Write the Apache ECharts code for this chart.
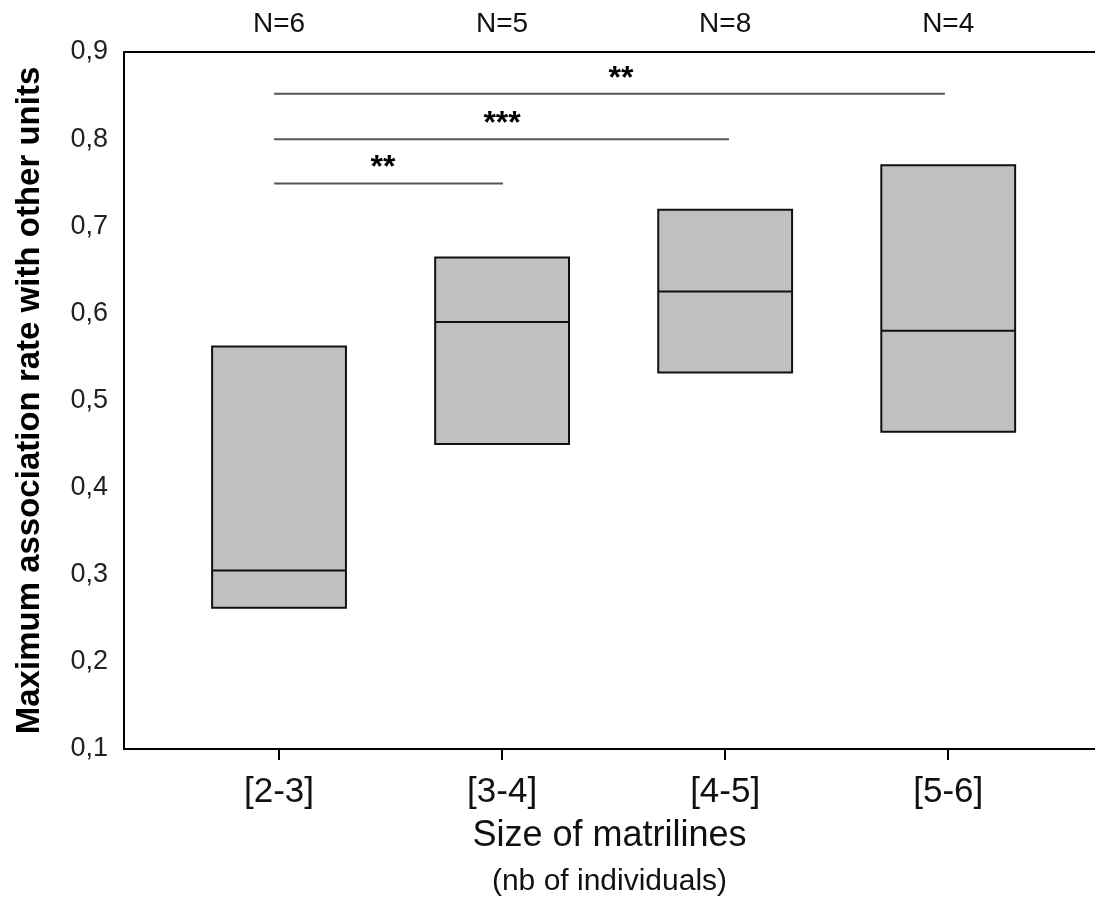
<!DOCTYPE html>
<html>
<head>
<meta charset="utf-8">
<script src="https://cdn.jsdelivr.net/npm/echarts@6/dist/echarts.min.js"></script>
<style>
html,body{margin:0;padding:0;background:#fff;}
#chart{width:1095px;height:907px;}
</style>
</head>
<body>
<div id="chart"></div>
<script>
// ---- data ----
const categories = ['[2-3]', '[3-4]', '[4-5]', '[5-6]'];
const sampleSizes = ['N=6', 'N=5', 'N=8', 'N=4'];
const q1Values = [0.262, 0.450, 0.532, 0.464];
const medianValues = [0.305, 0.590, 0.625, 0.580];
const q3Values = [0.562, 0.664, 0.719, 0.770];
const yTicks = [0.1, 0.2, 0.3, 0.4, 0.5, 0.6, 0.7, 0.8, 0.9];
// significance brackets: start x, end x, level, star x, stars
const sigStart = [0.978, 0.978, 0.978];
const sigEnd = [2.004, 3.017, 3.985];
const sigLevel = [0.749, 0.800, 0.852];
const sigStarX = [1.466, 2.0, 2.533];
const sigStars = ['**', '***', '**'];

const FONT = '"Liberation Sans", Arial, Helvetica, sans-serif';
const BOX_W = 0.6;
const catPos = categories.map((c, i) => i + 1);

const boxData = categories.map((c, i) => [catPos[i], q1Values[i], medianValues[i], q3Values[i]]);
const sigData = sigStars.map((s, i) => [sigStart[i], sigEnd[i], sigLevel[i], sigStarX[i], s]);

const chart = echarts.init(document.getElementById('chart'));
chart.setOption({
  animation: false,
  backgroundColor: '#fff',
  grid: { left: 124, right: 0, top: 52, bottom: 158, containLabel: false },
  xAxis: [{
    type: 'value', min: 0.305, max: 4.658, position: 'bottom',
    axisLine: { show: true, onZero: false, lineStyle: { color: '#000', width: 2 } },
    axisTick: { show: true, customValues: catPos, length: 11, lineStyle: { color: '#000', width: 2 } },
    axisLabel: { customValues: catPos, margin: 26, fontSize: 35, fontFamily: FONT, color: '#111',
      formatter: v => categories[Math.round(v) - 1] || '' },
    splitLine: { show: false },
    name: '{a|Size of matrilines}\n{b|(nb of individuals)}',
    nameLocation: 'middle', nameGap: 64,
    nameTextStyle: { fontFamily: FONT, color: '#111',
      rich: { a: { fontSize: 36, lineHeight: 46, fontFamily: FONT, color: '#111' },
              b: { fontSize: 30, lineHeight: 46, fontFamily: FONT, color: '#111' } } }
  }, {
    type: 'value', min: 0.305, max: 4.658, position: 'top',
    axisLine: { show: true, onZero: false, lineStyle: { color: '#000', width: 2 } },
    axisTick: { show: false },
    axisLabel: { customValues: catPos, margin: 14, fontSize: 28, fontFamily: FONT, color: '#111',
      formatter: v => sampleSizes[Math.round(v) - 1] || '' },
    splitLine: { show: false }
  }],
  yAxis: {
    type: 'value', min: 0.1, max: 0.9, interval: 0.1,
    axisLine: { show: true, onZero: false, lineStyle: { color: '#000', width: 2 } },
    axisTick: { show: false },
    axisLabel: { margin: 16, fontSize: 27, fontFamily: FONT, color: '#222',
      formatter: v => v.toFixed(1).replace('.', ',') },
    splitLine: { show: false },
    name: 'Maximum association rate with other units',
    nameLocation: 'middle', nameGap: 78,
    nameTextStyle: { fontSize: 33, fontWeight: 'bold', fontFamily: FONT, color: '#000' }
  },
  series: [{
    type: 'custom',
    xAxisIndex: 0,
    data: boxData,
    renderItem: function (params, api) {
      const x = api.value(0), lo = api.value(1), med = api.value(2), hi = api.value(3);
      const tl = api.coord([x - BOX_W / 2, hi]);
      const br = api.coord([x + BOX_W / 2, lo]);
      const ml = api.coord([x - BOX_W / 2, med]);
      const mr = api.coord([x + BOX_W / 2, med]);
      return {
        type: 'group',
        children: [{
          type: 'rect',
          shape: { x: tl[0], y: tl[1], width: br[0] - tl[0], height: br[1] - tl[1] },
          style: { fill: '#c0c0c0', stroke: '#111', lineWidth: 2 }
        }, {
          type: 'line',
          shape: { x1: ml[0], y1: ml[1], x2: mr[0], y2: mr[1] },
          style: { stroke: '#111', lineWidth: 2 }
        }]
      };
    }
  }, {
    type: 'custom',
    xAxisIndex: 0,
    data: sigData,
    renderItem: function (params, api) {
      const x1 = api.value(0), x2 = api.value(1), lvl = api.value(2), sx = api.value(3);
      const stars = sigStars[params.dataIndex];
      const a = api.coord([x1, lvl]);
      const b = api.coord([x2, lvl]);
      const s = api.coord([sx, lvl]);
      return {
        type: 'group',
        children: [{
          type: 'line',
          shape: { x1: a[0], y1: a[1], x2: b[0], y2: b[1] },
          style: { stroke: '#555', lineWidth: 2 }
        }, {
          type: 'text',
          style: { x: s[0], y: s[1] - 15, text: stars, fill: '#000',
            font: 'bold 32px ' + FONT, textAlign: 'center', textVerticalAlign: 'middle' }
        }]
      };
    }
  }]
});
</script>
</body>
</html>
